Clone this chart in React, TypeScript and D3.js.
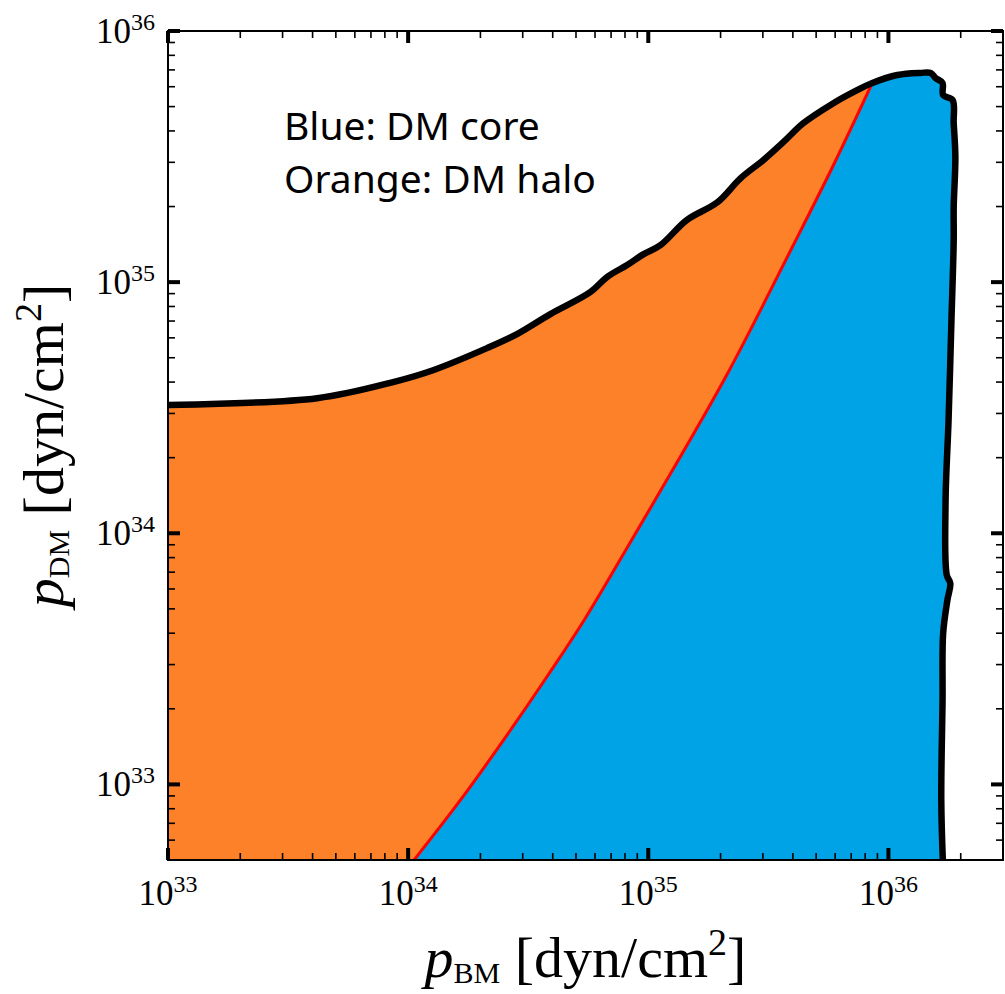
import React from "react";
import * as d3 from "d3";

// ---- data ----
// outer boundary of the allowed region (black curve): [p_BM, p_DM] in dyn/cm^2
const boundaryBM = [
  1e33, 4.18e33, 8.66e33, 1.27e34, 2.13e34, 2.84e34, 3.91e34, 5.73e34, 6.75e34, 8.17e34,
  9.53e34, 1.12e35, 1.45e35, 1.94e35, 2.42e35, 3.01e35, 3.65e35, 4.43e35, 5.9e35, 7.14e35,
  8.57e35, 1.09e36, 1.36e36, 1.5e36, 1.57e36, 1.68e36, 1.69e36, 1.85e36, 1.87e36, 1.9e36,
  1.87e36, 1.87e36, 1.83e36, 1.78e36, 1.73e36, 1.75e36, 1.81e36, 1.76e36, 1.69e36, 1.68e36,
  1.66e36, 1.69e36,
];
const boundaryDM = [
  3.24e34, 3.45e34, 4.0e34, 4.46e34, 5.46e34, 6.21e34, 7.46e34, 9.12e34, 1.05e35, 1.17e35,
  1.29e35, 1.4e35, 1.77e35, 2.08e35, 2.59e35, 3.06e35, 3.61e35, 4.3e35, 5.16e35, 5.71e35,
  6.21e35, 6.68e35, 6.81e35, 6.81e35, 6.5e35, 6.21e35, 5.56e35, 5.31e35, 4.3e35, 3.15e35,
  1.99e35, 1.47e35, 7.06e34, 2.82e34, 1.35e34, 6.81e33, 6.32e33, 5.41e33, 4.0e33, 2.16e33,
  8.63e32, 4.6e32,
];
// index of the boundary point where the core/halo divide meets the outer curve
const junctionIndex = 20;

// core / halo divide (red curve)
const divideBM = [1.05e34, 1.647e34, 2.42e34, 3.79e34, 5.46e34, 8.66e34, 1.05e35, 2.13e35, 3.98e35, 5.9e35, 8.57e35];
const divideDM = [4.95e32, 8.63e32, 1.44e33, 2.69e33, 4.58e33, 9.64e33, 1.32e34, 4.3e34, 1.38e35, 2.92e35, 6.21e35];

const xDomain = [1e33, 3e36];
const yDomain = [5e32, 1e36];
const xMajor = [1e33, 1e34, 1e35, 1e36];
const yMajor = [1e33, 1e34, 1e35, 1e36];
const xMajorExp = ["33", "34", "35", "36"];
const yMajorExp = ["33", "34", "35", "36"];
const noteLines = ["Blue: DM core", "Orange: DM halo"];

const ORANGE = "#FD8129";
const BLUE = "#00A4E6";

export default function App() {
  const W = 1005, H = 994;
  const L = 168, R = 1003, T = 31, B = 860;
  const x = d3.scaleLog().domain(xDomain).range([L, R]);
  const y = d3.scaleLog().domain(yDomain).range([B, T]);

  const boundary = boundaryBM.map((v, i) => [v, boundaryDM[i]] as [number, number]);
  const divide = divideBM.map((v, i) => [v, divideDM[i]] as [number, number]);
  const yLow = yDomain[0] * 0.9;

  const curve = d3.curveCatmullRom.alpha(0.5);
  const smooth = d3
    .line<[number, number]>()
    .x((d) => x(d[0]))
    .y((d) => y(d[1]))
    .curve(curve);
  const straight = d3.line<[number, number]>().x((d) => x(d[0])).y((d) => y(d[1]));

  const upperHalo = boundary.slice(0, junctionIndex + 1);
  const upperCore = boundary.slice(junctionIndex);

  const orangeD =
    smooth(upperHalo) +
    (smooth(divide.slice().reverse()) || "").replace(/^M/, "L") +
    (straight([
      [divide[0][0], yLow],
      [xDomain[0] * 0.9, yLow],
      [xDomain[0] * 0.9, boundary[0][1]],
    ]) || "").replace(/^M/, "L") +
    "Z";
  const blueD =
    smooth(divide) +
    (smooth(upperCore) || "").replace(/^M/, "L") +
    (straight([
      [boundary[boundary.length - 1][0], yLow],
      [divide[0][0], yLow],
    ]) || "").replace(/^M/, "L") +
    "Z";

  const minorX: number[] = [];
  for (let e = 33; e <= 36; e++)
    for (let k = 2; k <= 9; k++) {
      const v = k * Math.pow(10, e);
      if (v > xDomain[0] && v < xDomain[1]) minorX.push(v);
    }
  const minorY: number[] = [];
  for (let e = 32; e <= 35; e++)
    for (let k = 2; k <= 9; k++) {
      const v = k * Math.pow(10, e);
      if (v > yDomain[0] && v < yDomain[1]) minorY.push(v);
    }

  const majLen = 12, minLen = 7;
  const serif = "'Liberation Serif', 'DejaVu Serif', serif";

  return (
    <svg width={W} height={H} style={{ position: "absolute", left: 0, top: 0 }} xmlns="http://www.w3.org/2000/svg">
      <rect x={0} y={0} width={W} height={H} fill="#fff" />
      <defs>
        <clipPath id="plot">
          <rect x={L} y={T} width={R - L} height={B - T} />
        </clipPath>
      </defs>
      <g clipPath="url(#plot)">
        <path d={orangeD} fill={ORANGE} />
        <path d={blueD} fill={BLUE} />
        <path d={smooth(divide) || ""} fill="none" stroke="#ff0000" strokeWidth={3} />
        <path d={smooth(boundary) || ""} fill="none" stroke="#000" strokeWidth={6.5} strokeLinejoin="round" strokeLinecap="round" />
      </g>

      <rect x={L} y={T} width={R - L} height={B - T} fill="none" stroke="#000" strokeWidth={2} />

      <g stroke="#000">
        {minorX.map((v, i) => (
          <g key={"mx" + i} strokeWidth={1.6}>
            <line x1={x(v)} x2={x(v)} y1={B} y2={B - minLen} />
            <line x1={x(v)} x2={x(v)} y1={T} y2={T + minLen} />
          </g>
        ))}
        {xMajor.map((v, i) => (
          <g key={"Mx" + i} strokeWidth={4}>
            <line x1={x(v)} x2={x(v)} y1={B} y2={B - majLen} />
            <line x1={x(v)} x2={x(v)} y1={T} y2={T + majLen} />
          </g>
        ))}
        {minorY.map((v, i) => (
          <g key={"my" + i} strokeWidth={1.6}>
            <line x1={L} x2={L + minLen} y1={y(v)} y2={y(v)} />
            <line x1={R} x2={R - minLen} y1={y(v)} y2={y(v)} />
          </g>
        ))}
        {yMajor.map((v, i) => (
          <g key={"My" + i} strokeWidth={4}>
            <line x1={L} x2={L + majLen} y1={y(v)} y2={y(v)} />
            <line x1={R} x2={R - majLen} y1={y(v)} y2={y(v)} />
          </g>
        ))}
      </g>

      <g fontFamily={serif} fill="#000">
        {xMajor.map((v, i) => (
          <text key={"lx" + i} x={x(v)} y={905} textAnchor="middle" fontSize={35}>
            <tspan>10</tspan>
            <tspan fontSize={24} dy={-13}>{xMajorExp[i]}</tspan>
          </text>
        ))}
        {yMajor.map((v, i) => (
          <text key={"ly" + i} x={155} y={y(v) + 12} textAnchor="end" fontSize={35}>
            <tspan>10</tspan>
            <tspan fontSize={24} dy={-13}>{yMajorExp[i]}</tspan>
          </text>
        ))}
      </g>

      <text x={(L + R) / 2} y={977} textAnchor="middle" fontFamily={serif} fontSize={58} fill="#000">
        <tspan fontStyle="italic">p</tspan>
        <tspan fontSize={30} dy={6}>BM</tspan>
        <tspan dy={-6}> [dyn/cm</tspan>
        <tspan fontSize={38} dy={-22}>2</tspan>
        <tspan dy={22}>]</tspan>
      </text>
      <text
        transform={`translate(63, ${(T + B) / 2}) rotate(-90)`}
        textAnchor="middle"
        fontFamily={serif}
        fontSize={58}
        fill="#000"
      >
        <tspan fontStyle="italic">p</tspan>
        <tspan fontSize={30} dy={6}>DM</tspan>
        <tspan dy={-6}> [dyn/cm</tspan>
        <tspan fontSize={38} dy={-22}>2</tspan>
        <tspan dy={22}>]</tspan>
      </text>

      <g fontFamily="'Noto Sans', sans-serif" fontSize={39} fill="#000">
        {noteLines.map((s, i) => (
          <text key={"n" + i} x={284} y={140 + i * 53}>
            {s}
          </text>
        ))}
      </g>
    </svg>
  );
}
